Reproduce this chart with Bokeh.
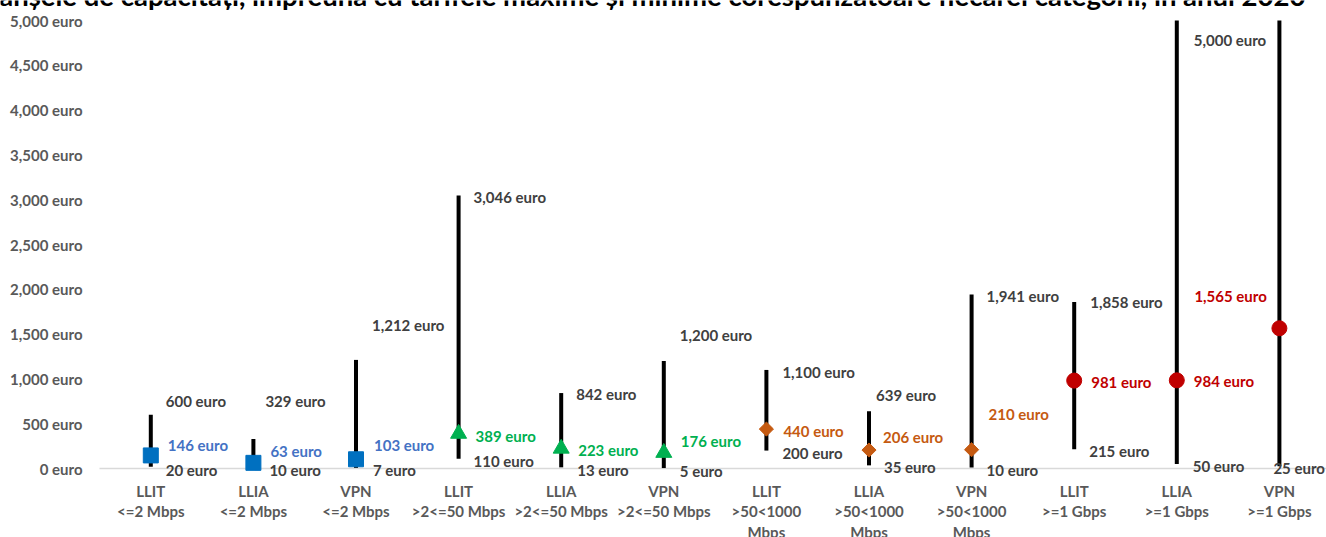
import math
from bokeh.plotting import figure
from bokeh.models import ColumnDataSource, LabelSet, Label
from bokeh.core.properties import value
from bokeh.embed import file_html
from bokeh.resources import INLINE

# ---------------- data ----------------
categories = [
    "LLIT\n<=2 Mbps", "LLIA\n<=2 Mbps", "VPN\n<=2 Mbps",
    "LLIT\n>2<=50 Mbps", "LLIA\n>2<=50 Mbps", "VPN\n>2<=50 Mbps",
    "LLIT\n>50<1000\nMbps", "LLIA\n>50<1000\nMbps", "VPN\n>50<1000\nMbps",
    "LLIT\n>=1 Gbps", "LLIA\n>=1 Gbps", "VPN\n>=1 Gbps",
]
min_vals = [20, 10, 7, 110, 13, 5, 200, 35, 10, 215, 50, 25]
max_vals = [600, 329, 1212, 3046, 842, 1200, 1100, 639, 1941, 1858, 5000, 5000]
avg_vals = [146, 63, 103, 389, 223, 176, 440, 206, 210, 981, 984, 1565]
y_ticks = [0, 500, 1000, 1500, 2000, 2500, 3000, 3500, 4000, 4500, 5000]
title_text = ("tranșele de capacități, împreună cu tarifele maxime și minime "
              "corespunzătoare fiecărei categorii, în anul 2020")

# ---------------- layout / styles ----------------
W, H = 1326, 537
PX_PER_CAT = 102.6          # horizontal px per category
CAT0_PX = 150.3             # px of first category centre
ZERO_PX = 468               # px (from top) of value 0
TOP_PX = 20                 # px (from top) of axis maximum
Y_MAX = 5000
y_per_px = Y_MAX / (ZERO_PX - TOP_PX)
x_start = -CAT0_PX / PX_PER_CAT
x_end = (W - CAT0_PX) / PX_PER_CAT
y_start = -(H - ZERO_PX) * y_per_px
y_end = Y_MAX + TOP_PX * y_per_px

grp_marker = ["square", "triangle", "square", "circle"]
grp_color = ["#0070C0", "#00B050", "#C55A11", "#C00000"]
grp_text_color = ["#4472C4", "#00B050", "#C55A11", "#C00000"]
grp_angle = [0, 0, math.pi / 4, 0]
grp_size = [15, 16, 10, 15]

# label offsets in screen px (dx right, dy down)
max_off = [(15, -14), (12, -38), (16, -35), (15, 1), (15, 1), (16, -26),
           (16, 2), (7, -16), (15, 1), (16, 0), (17, 19), (0, 0)]
max_show = [True] * 11 + [False]
min_off = [(15, 3), (16, 2), (17, 2), (15, 2), (16, 2.5), (16, 2.5),
           (16, 2), (15, 2), (15, 2), (15, 2), (16, 2), (-6, 1.5)]
avg_off = [(17, -10), (17, -12), (18, -14), (17, 2), (17, 1), (17, -11.5),
           (17, 1.5), (14, -13.5), (17, -36), (17, 1.5), (17, 1), (-85, -32)]

FONT_NAME = "Lato"
FONT = value(FONT_NAME)
FS = "15px"

n = len(categories)
xs = list(range(n))
g = [i // 3 for i in xs]

def fmt(v):
    return f"{v:,} euro"

def line_of(c, k):
    parts = c.split("\n")
    return parts[k] if len(parts) > k else ""

src = ColumnDataSource(dict(
    x=xs, lo=min_vals, hi=max_vals, avg=avg_vals,
    marker=[grp_marker[k] for k in g],
    color=[grp_color[k] for k in g],
    tcolor=[grp_text_color[k] for k in g],
    angle=[grp_angle[k] for k in g],
    size=[grp_size[k] for k in g],
    hi_txt=[fmt(v) if s else "" for v, s in zip(max_vals, max_show)],
    lo_txt=[fmt(v) for v in min_vals],
    avg_txt=[fmt(v) for v in avg_vals],
    hi_dx=[o[0] for o in max_off], hi_dy=[-o[1] for o in max_off],
    lo_dx=[o[0] for o in min_off], lo_dy=[-o[1] for o in min_off],
    avg_dx=[o[0] for o in avg_off], avg_dy=[-o[1] for o in avg_off],
    zero=[0] * n,
    l1=[line_of(c, 0) for c in categories],
    l2=[line_of(c, 1) for c in categories],
    l3=[line_of(c, 2) for c in categories],
))

tick_src = ColumnDataSource(dict(
    x=[-0.5] * len(y_ticks), y=y_ticks, txt=[fmt(t) for t in y_ticks]))

p = figure(width=W, height=H, x_range=(x_start, x_end), y_range=(y_start, y_end),
           output_backend="svg", toolbar_location=None, title=None,
           x_axis_location=None, y_axis_location=None,
           min_border=0, outline_line_color=None,
           background_fill_color="white", border_fill_color="white")
p.xgrid.grid_line_color = None
p.ygrid.grid_line_color = None

# x axis baseline
p.segment(x0=[-0.5], y0=[0], x1=[x_end], y1=[0], line_color="#D9D9D9", line_width=1.5)

# y tick labels
p.add_layout(LabelSet(x="x", y="y", text="txt", source=tick_src, x_offset=-17,
                      text_font=FONT, text_font_style="bold", text_font_size=FS,
                      text_color="#595959", text_align="right",
                      text_baseline="middle"))

p.segment(x0="x", y0="lo", x1="x", y1="hi", source=src,
          line_color="black", line_width=4)
p.scatter(x="x", y="avg", marker="marker", size="size", angle="angle",
          fill_color="color", line_color="color", source=src)

common = dict(source=src, text_font=FONT, text_font_style="bold",
              text_font_size=FS, text_baseline="middle", text_align="left")
p.add_layout(LabelSet(x="x", y="hi", text="hi_txt", x_offset="hi_dx",
                      y_offset="hi_dy", text_color="#404040", **common))
p.add_layout(LabelSet(x="x", y="lo", text="lo_txt", x_offset="lo_dx",
                      y_offset="lo_dy", text_color="#404040", **common))
p.add_layout(LabelSet(x="x", y="avg", text="avg_txt", x_offset="avg_dx",
                      y_offset="avg_dy", text_color="tcolor", **common))

cat_common = dict(source=src, text_font=FONT, text_font_style="bold",
                  text_font_size=FS, text_baseline="middle",
                  text_align="center", text_color="#595959")
for fld, off in (("l1", -22), ("l2", -42), ("l3", -63)):
    p.add_layout(LabelSet(x="x", y="zero", text=fld, y_offset=off, **cat_common))

p.add_layout(Label(x=n - 1, y=Y_MAX, x_offset=26, y_offset=25, text=title_text,
                   text_align="right", text_baseline="alphabetic",
                   text_font=FONT_NAME, text_font_style="bold",
                   text_font_size="27.5px", text_color="black"))

open("out.html", "w").write(file_html(p, INLINE))
